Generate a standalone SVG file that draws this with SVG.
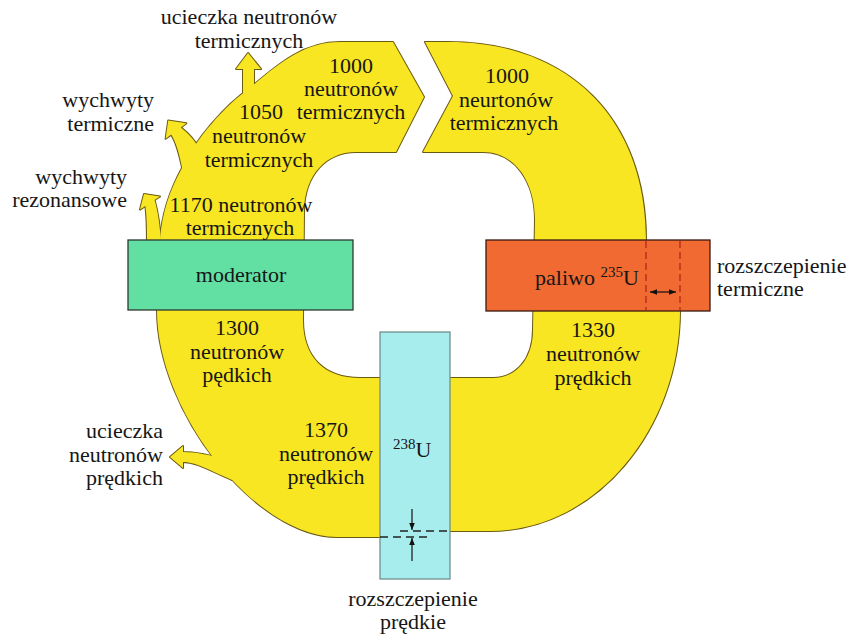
<svg xmlns="http://www.w3.org/2000/svg" xmlns:xlink="http://www.w3.org/1999/xlink" width="860" height="637" viewBox="0 0 860 637">
  <style>
    .edge { fill: #f8e622; stroke: #6b5a12; stroke-width: 2; stroke-linejoin: round; }
    .fill { fill: #f8e622; }
    text { font-family: "Liberation Serif", "Times New Roman", serif; font-size: 22px; fill: #161616; }
    .c { text-anchor: middle; }
    .r { text-anchor: end; }
    .sup { font-size: 15px; }
    .dash-red { stroke: #b02a1c; stroke-width: 1.3; stroke-dasharray: 7 4; fill: none; }
    .dash-dark { stroke: #222; stroke-width: 1.4; stroke-dasharray: 8 5; fill: none; }
    .dim { stroke: #111; stroke-width: 1.2; fill: none; marker-end: url(#ah); }
  </style>
  <defs>
    <marker id="ah" viewBox="0 0 10 10" refX="10" refY="5" markerWidth="7" markerHeight="7" markerUnits="userSpaceOnUse" orient="auto-start-reverse">
      <path d="M0,1 L10,5 L0,9 Z" fill="#111"/>
    </marker>
    <!-- neutron flow ring, open at the chevron gap -->
    <path id="band" d="M425,42 L448,42 C570,42 646,120 646,240 L646,270 L680,280 L680,310 C680,430 595,531 490,531 L415,531 L415,537 L337,537 C256,537 157,412 157,310 L157,270 L160,240 C162,212 170,190 182,168 C195,140 225,105 250,88 C280,62 305,42 340,42 L393,42 L424,97 L396,152 L356,152 C326,152 305,175 304,210 L303,320 C303,358 325,378 360,378 L493,378 C515,378 533,360 533,330 L535,220 C535,182 515,152 483,152 L423,152 L453,96 Z"/>
    <!-- loss branches -->
    <path id="leak-thermal" d="M243,100 L243,69 L236,69 L248,53 L261,69 L254,69 L254,96 Z"/>
    <path id="capture-thermal" d="M200,150 C195,140 188,133 180.8,127.4 L186.4,123.2 L168.2,120.6 L165.6,138.8 L171.2,134.6 C176,142 180,155 184,178 Z"/>
    <path id="capture-resonance" d="M161,244 C160,225 158,212 154.6,200 L160,196.4 L144,194 L140,209.6 L145.4,206 C147,218 147,230 147,244 Z"/>
    <path id="leak-fast" d="M228,460 C210,455 197,452 183,452 L183,446 L170,457 L183,468 L183,462 C195,462 205,468 232,480 Z"/>
  </defs>

  <!-- flow band: outlines first, then fills so only the outer contour shows -->
  <g id="flow">
    <use xlink:href="#band" class="edge"/>
    <use xlink:href="#leak-thermal" class="edge"/>
    <use xlink:href="#capture-thermal" class="edge"/>
    <use xlink:href="#capture-resonance" class="edge"/>
    <use xlink:href="#leak-fast" class="edge"/>
    <use xlink:href="#band" class="fill"/>
    <use xlink:href="#leak-thermal" class="fill"/>
    <use xlink:href="#capture-thermal" class="fill"/>
    <use xlink:href="#capture-resonance" class="fill"/>
    <use xlink:href="#leak-fast" class="fill"/>
  </g>

  <g id="moderator">
    <rect x="128" y="240" width="225" height="70" fill="#62dfa3" stroke="#2b3a30" stroke-width="1.3"/>
    <text class="c" x="241" y="282">moderator</text>
  </g>

  <g id="fuel">
    <rect x="486" y="240" width="224" height="71" fill="#f06a31" stroke="#3a1a10" stroke-width="1.3"/>
    <line class="dash-red" x1="646" y1="241" x2="646" y2="311"/>
    <line class="dash-red" x1="680" y1="241" x2="680" y2="311"/>
    <line x1="650" y1="292" x2="676" y2="292" stroke="#111" stroke-width="1.2" marker-start="url(#ah)" marker-end="url(#ah)"/>
    <text x="535" y="285">paliwo <tspan class="sup" dy="-8">235</tspan><tspan dy="8">U</tspan></text>
  </g>

  <g id="u238">
    <rect x="380" y="332" width="70" height="247" fill="#a8eded" stroke="#6a8884" stroke-width="1.2"/>
    <line class="dash-dark" x1="400" y1="531" x2="450" y2="531"/>
    <line class="dash-dark" x1="380" y1="537" x2="432" y2="537"/>
    <line class="dim" x1="412" y1="509" x2="412" y2="530"/>
    <line class="dim" x1="412" y1="561" x2="412" y2="538"/>
    <text x="393" y="457"><tspan class="sup" dy="-8">238</tspan><tspan dy="8">U</tspan></text>
  </g>

  <!-- counts along the flow -->
  <g id="flow-labels">
    <text class="c" x="351" y="73">1000</text>
    <text class="c" x="351" y="96">neutronów</text>
    <text class="c" x="351" y="119">termicznych</text>

    <text class="c" x="261" y="119">1050</text>
    <text class="c" x="259" y="143">neutronów</text>
    <text class="c" x="259" y="167">termicznych</text>

    <text class="c" x="241" y="212">1170 neutronów</text>
    <text class="c" x="240" y="235">termicznych</text>

    <text class="c" x="237" y="335">1300</text>
    <text class="c" x="237" y="359">neutronów</text>
    <text class="c" x="237" y="382">pędkich</text>

    <text class="c" x="326" y="437">1370</text>
    <text class="c" x="326" y="461">neutronów</text>
    <text class="c" x="326" y="484">prędkich</text>

    <text class="c" x="593" y="337">1330</text>
    <text class="c" x="593" y="361">neutronów</text>
    <text class="c" x="593" y="385">prędkich</text>

    <text class="c" x="507" y="83">1000</text>
    <text class="c" x="506" y="107">neurtonów</text>
    <text class="c" x="504" y="130">termicznych</text>
  </g>

  <!-- loss and fission annotations -->
  <g id="annotations">
    <text class="c" x="249" y="24">ucieczka neutronów</text>
    <text class="c" x="249" y="48">termicznych</text>

    <text class="r" x="154" y="107">wychwyty</text>
    <text class="r" x="154" y="131">termiczne</text>

    <text class="r" x="127" y="184">wychwyty</text>
    <text class="r" x="127" y="207">rezonansowe</text>

    <text class="r" x="163" y="438">ucieczka</text>
    <text class="r" x="163" y="462">neutronów</text>
    <text class="r" x="163" y="485">prędkich</text>

    <text x="717" y="273">rozszczepienie</text>
    <text x="717" y="296">termiczne</text>

    <text class="c" x="413" y="606">rozszczepienie</text>
    <text class="c" x="413" y="629">prędkie</text>
  </g>
</svg>
